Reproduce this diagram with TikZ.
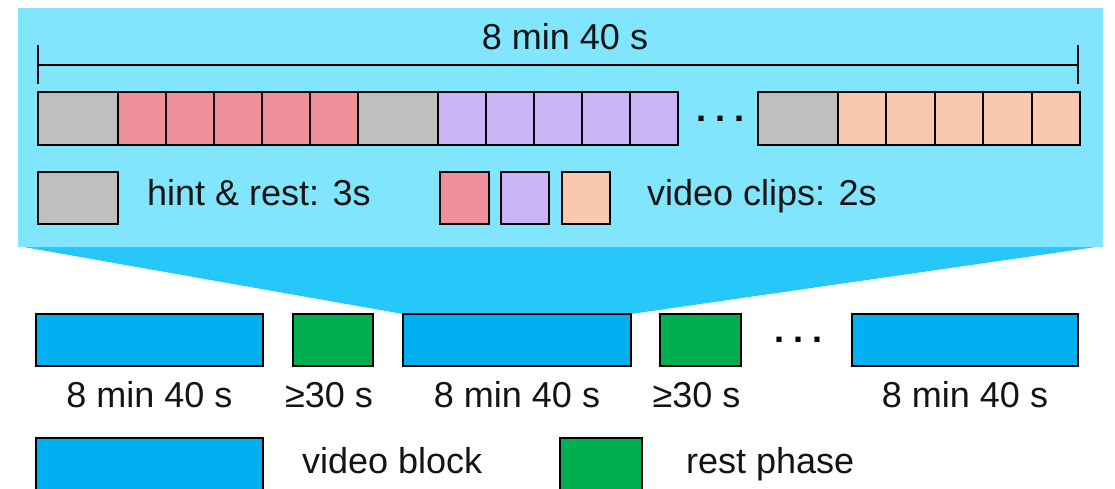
\documentclass[tikz,border=0pt]{standalone}
\usepackage{fontspec}
\setmainfont{Liberation Sans}
\definecolor{panelc}{RGB}{128,229,253}
\definecolor{trapc}{RGB}{38,200,250}
\definecolor{blockc}{RGB}{0,176,240}
\definecolor{restc}{RGB}{0,176,80}
\definecolor{grayc}{RGB}{191,191,191}
\definecolor{pinkc}{RGB}{238,143,153}
\definecolor{purpc}{RGB}{202,180,246}
\definecolor{peachc}{RGB}{250,200,174}
\definecolor{txtc}{RGB}{20,20,20}
\tikzset{
  cell/.style={draw=black, line width=2pt, inner sep=0pt, outer sep=0pt, anchor=north west},
  lbl/.style={inner sep=0pt, text=txtc, font=\fontsize{36}{42}\selectfont},
  dotsl/.style={inner sep=0pt, text=black, font=\bfseries\fontsize{36}{42}\selectfont, anchor=base},
}
\begin{document}
\begin{tikzpicture}[x=1pt, y=-1pt]
\useasboundingbox (0,0) rectangle (1115,489);
% panel and trapezoid
\fill[trapc] (18,246) -- (1103,246) -- (631,314) -- (403,314) -- cycle;
\fill[panelc] (18,8) rectangle (1103,247);
% dimension bracket
\coordinate (tl1) at (38,45); \coordinate (tl2) at (38,84);
\coordinate (tr1) at (1078,45); \coordinate (tr2) at (1078,84);
\coordinate (ml) at (38,65); \coordinate (mr) at (1078,65);
\draw[line width=2pt] (tl1) -- (tl2);
\draw[line width=2pt] (tr1) -- (tr2);
\draw[line width=2pt] (ml) -- (mr);
\node[lbl, anchor=base] (toplbl) at (565,50) {8 min 40 s};
% strip
\node[cell, fill=grayc, minimum width=80pt, minimum height=53pt] (ga) at (38,92) {};
\foreach \i in {0,...,4} {
  \node[cell, fill=pinkc, minimum width=48pt, minimum height=53pt] (pa\i) at ({118+48*\i},92) {};
}
\node[cell, fill=grayc, minimum width=80pt, minimum height=53pt] (gb) at (358,92) {};
\foreach \i in {0,...,4} {
  \node[cell, fill=purpc, minimum width=48pt, minimum height=53pt] (pb\i) at ({438+48*\i},92) {};
}
\node[dotsl] (dt) at (720,122) {.\hspace{9pt}.\hspace{9pt}.};
\node[cell, fill=grayc, minimum width=80pt, minimum height=53pt] (gc) at (758,92) {};
\foreach \i in {0,...,4} {
  \node[cell, fill=peachc, minimum width=48.4pt, minimum height=53pt] (pc\i) at ({838+48.4*\i},92) {};
}
% top legend
\node[cell, fill=grayc, minimum width=80pt, minimum height=52pt] (lg) at (38,172) {};
\node[lbl, anchor=base west] (lgt) at (147,205) {hint \& rest: 3s};
\node[cell, fill=pinkc, minimum width=49pt, minimum height=52pt] (lp) at (440,172) {};
\node[cell, fill=purpc, minimum width=48pt, minimum height=52pt] (lu) at (501,172) {};
\node[cell, fill=peachc, minimum width=48pt, minimum height=52pt] (le) at (562,172) {};
\node[lbl, anchor=base west] (lvt) at (647,205) {video clips: 2s};
% bottom row
\node[cell, fill=blockc, minimum width=227pt, minimum height=52pt] (b1) at (36,314) {};
\node[cell, fill=restc, minimum width=80pt, minimum height=52pt] (r1) at (293,314) {};
\node[cell, fill=blockc, minimum width=228pt, minimum height=52pt] (b2) at (403,314) {};
\node[cell, fill=restc, minimum width=81pt, minimum height=52pt] (r2) at (660,314) {};
\node[dotsl] (db) at (798,342) {.\hspace{9pt}.\hspace{9pt}.};
\node[cell, fill=blockc, minimum width=226pt, minimum height=52pt] (b3) at (852,314) {};
\node[lbl, anchor=base] (lb1) at (b1.south |- 0,407) {8 min 40 s};
\node[lbl, anchor=base] (lr1) at ([xshift=-4pt]r1.south |- 0,407) {≥30 s};
\node[lbl, anchor=base] (lb2) at (b2.south |- 0,407) {8 min 40 s};
\node[lbl, anchor=base] (lr2) at ([xshift=-4pt]r2.south |- 0,407) {≥30 s};
\node[lbl, anchor=base] (lb3) at (b3.south |- 0,407) {8 min 40 s};
% bottom legend
\node[cell, fill=blockc, minimum width=227pt, minimum height=60pt] (kb) at (36,438) {};
\node[lbl, anchor=base west] (kbt) at (302,473) {video block};
\node[cell, fill=restc, minimum width=82pt, minimum height=60pt] (kr) at (560,438) {};
\node[lbl, anchor=base west] (krt) at (686,473) {rest phase};
\end{tikzpicture}
\end{document}
